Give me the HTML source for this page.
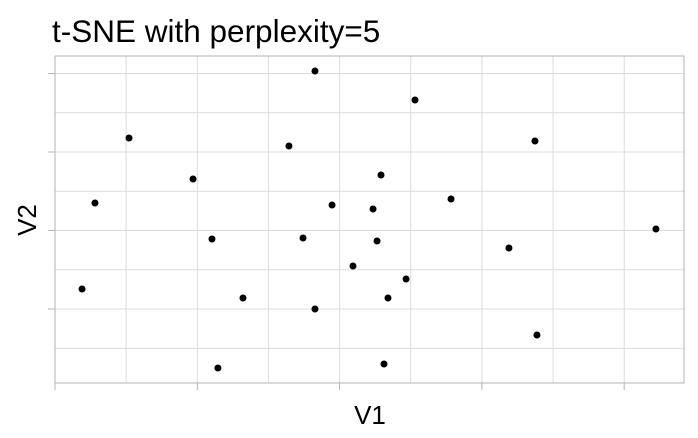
<!DOCTYPE html>
<html><head><meta charset="utf-8"><style>body{margin:0;background:#fff}svg{display:block}</style></head>
<body>
<svg id="chart" width="698" height="438" xmlns="http://www.w3.org/2000/svg" font-family="Liberation Sans, sans-serif">
<text x="52" y="42" font-size="31.5" fill="#000">t-SNE with perplexity=5</text>
<text x="370" y="424" font-size="26" text-anchor="middle">V1</text>
<text transform="translate(36,220) rotate(-90)" font-size="26" text-anchor="middle">V2</text>
<g id="grid"></g><g id="pts"></g>
</svg>
<script>
const xVals=[1.827,2.530,0.520,3.373,1.644,0.970,2.291,0.281,2.783,1.947,2.235,4.223,1.103,1.743,2.263,3.190,2.094,2.467,0.190,1.321,2.340,1.827,3.387,2.312,1.145];
const yVals=[3.032,2.662,2.178,2.140,2.076,1.656,1.707,1.350,1.401,1.325,1.274,1.019,0.892,0.904,0.866,0.777,0.548,0.382,0.255,0.140,0.140,0,-0.331,-0.701,-0.752];
const xTicks=[0,1,2,3,4];
const yTicks=[0,1,2,3];
const X=v=>55+142.3*v, Y=v=>309-78.5*v;
const NS="http://www.w3.org/2000/svg";
const g=document.getElementById('grid'), p=document.getElementById('pts');
function line(x1,y1,x2,y2,c,name){const l=document.createElementNS(NS,'line');l.setAttribute('x1',x1);l.setAttribute('y1',y1);l.setAttribute('x2',x2);l.setAttribute('y2',y2);l.setAttribute('stroke',c);l.setAttribute('stroke-width',1);


g.appendChild(l);}
for(let v=-0.5;X(v)<684;v+=0.5){if(X(v)>55)line(X(v),56,X(v),383,'#dcdcdc','x-gridline');}
for(let v=-1;Y(v)>56;v+=0.5){if(Y(v)<383)line(55,Y(v),684,Y(v),'#dcdcdc','y-gridline');}
xTicks.forEach(v=>line(X(v),383,X(v),390,'#b3b3b3','x-tick'));
yTicks.forEach(v=>line(48,Y(v),55,Y(v),'#b3b3b3','y-tick'));
const r=document.createElementNS(NS,'rect');r.setAttribute('x',55);r.setAttribute('y',56);r.setAttribute('width',629);r.setAttribute('height',327);r.setAttribute('fill','none');r.setAttribute('stroke','#b3b3b3');


g.appendChild(r);
xVals.forEach((xv,i)=>{const c=document.createElementNS(NS,'circle');c.setAttribute('cx',X(xv));c.setAttribute('cy',Y(yVals[i]));c.setAttribute('r',3.5);c.setAttribute('fill','#000');


p.appendChild(c);});
</script>
</body></html>
